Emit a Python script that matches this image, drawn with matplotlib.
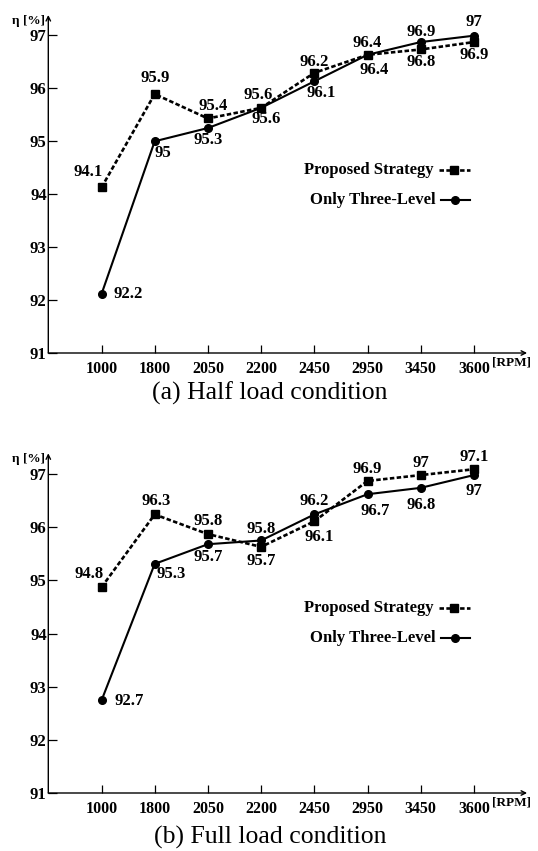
import matplotlib
matplotlib.use('Agg')
import matplotlib.pyplot as plt
from matplotlib.lines import Line2D

speeds = ['1000', '1800', '2050', '2200', '2450', '2950', '3450', '3600']
yticks = [91, 92, 93, 94, 95, 96, 97]

half_proposed = [94.12, 95.88, 95.42, 95.62, 96.28, 96.62, 96.72, 96.86]
half_three = [92.11, 94.99, 95.24, 95.62, 96.12, 96.62, 96.86, 96.98]
half_proposed_labels = ['94.1', '95.9', '95.4', '95.6', '96.2', '96.4', '96.8', '96.9']
half_three_labels = ['92.2', '95', '95.3', '95.6', '96.1', '96.4', '96.9', '97']

full_proposed = [94.87, 96.24, 95.87, 95.63, 96.11, 96.87, 96.98, 97.09]
full_three = [92.74, 95.31, 95.68, 95.75, 96.24, 96.62, 96.74, 96.98]
full_proposed_labels = ['94.8', '96.3', '95.8', '95.7', '96.1', '96.9', '97', '97.1']
full_three_labels = ['92.7', '95.3', '95.7', '95.8', '96.2', '96.7', '96.8', '97']

legend_names = ['Proposed Strategy', 'Only Three-Level']
captions = ['(a) Half load condition', '(b) Full load condition']

# label offsets in pixels (layout only)
half_prop_off = [(-13, 15), (0, 16), (5, 12), (-3, 13), (0, 11), (7, -15), (0, -13), (0, -13)]
half_three_off = [(27, 0), (8, -12), (0, -12), (5, -11), (7, -12), (0, 12), (0, 10), (0, 14)]
full_prop_off = [(-12, 13), (1, 13), (0, 13), (0, -14), (5, -16), (0, 12), (0, 12), (0, 12)]
full_three_off = [(28, -1), (16, -10), (0, -13), (0, 11), (0, 13), (8, -17), (0, -17), (0, -16)]

SERIF = ['Liberation Serif', 'DejaVu Serif']
plt.rcParams['font.family'] = SERIF

W, H = 538, 851
fig = plt.figure(figsize=(W / 100, H / 100), dpi=100)

LABEL_FS = 12
TICKX_FS = 11.5
TICKY_FS = 12


def px_axes(left, top, right, bottom):
    return fig.add_axes([left / W, 1 - bottom / H, (right - left) / W, (bottom - top) / H])


def draw_panel(ax, prop, three, prop_lab, three_lab, prop_off, three_off, ytop):
    x = list(range(1, len(speeds) + 1))
    ax.set_xlim(0, 9.0)
    ax.set_ylim(91, ytop)
    for s in ['top', 'right', 'left', 'bottom']:
        ax.spines[s].set_visible(False)
    ax.annotate('', xy=(1, 0), xytext=(0, 0), xycoords='axes fraction',
                arrowprops=dict(arrowstyle='->', lw=1.0, color='black',
                                shrinkA=0, shrinkB=0, mutation_scale=8))
    ax.annotate('', xy=(0, 1), xytext=(0, 0), xycoords='axes fraction',
                arrowprops=dict(arrowstyle='->', lw=1.0, color='black',
                                shrinkA=0, shrinkB=0, mutation_scale=8))
    ax.set_xticks(x)
    ax.set_xticklabels(speeds, fontweight='bold', fontsize=TICKX_FS)
    ax.set_yticks(yticks)
    ax.set_yticklabels([str(v) for v in yticks], fontweight='bold', fontsize=TICKY_FS)
    ax.tick_params(axis='x', direction='in', length=6, width=0.9, pad=5.5, colors='black')
    ax.tick_params(axis='y', direction='in', length=6.5, width=0.9, pad=1.2, colors='black')

    ax.plot(x, three, color='black', lw=1.5, marker='o', markersize=5.5, clip_on=False, zorder=3)
    ax.plot(x, prop, color='black', lw=1.9, dashes=(1.7, 0.9), marker='s', markersize=6.3,
            clip_on=False, zorder=4)

    for xi, yi, lab, off in zip(x, prop, prop_lab, prop_off):
        ax.annotate(lab, (xi, yi), xytext=off, textcoords='offset pixels',
                    ha='center', va='center', fontsize=LABEL_FS, fontweight='bold')
    for xi, yi, lab, off in zip(x, three, three_lab, three_off):
        ax.annotate(lab, (xi, yi), xytext=off, textcoords='offset pixels',
                    ha='center', va='center', fontsize=LABEL_FS, fontweight='bold')

    ax.text(-0.006, 1.0, 'η [%]', transform=ax.transAxes, ha='right', va='top',
            fontsize=9.5, fontweight='bold', family=SERIF)
    ax.text(0.927, -0.028, '[RPM]', transform=ax.transAxes, ha='left', va='center',
            fontsize=9.5, fontweight='bold')


def draw_legend(ax, y1, y2):
    rows = [(y1, legend_names[0], dict(lw=1.9, dashes=(1.7, 0.9)), 's', 6.3, 0.8055, 0.8157),
            (y2, legend_names[1], dict(lw=1.5), 'o', 5.5, 0.8098, 0.8198)]
    for y, name, style, mk, ms, tx, hx in rows:
        ax.text(tx, y, name, transform=ax.transAxes, ha='right', va='center',
                fontsize=LABEL_FS, fontweight='bold')
        line = Line2D([hx, 0.8804], [y, y], transform=ax.transAxes, color='black',
                      clip_on=False, **style)
        ax.add_line(line)
        ax.plot([(hx + 0.8804) / 2], [y], transform=ax.transAxes, color='black',
                marker=mk, markersize=ms, clip_on=False, zorder=5)


ax1 = px_axes(48.3, 15, 527.1, 353)
draw_panel(ax1, half_proposed, half_three, half_proposed_labels, half_three_labels,
           half_prop_off, half_three_off, 97.37)
draw_legend(ax1, 0.5414, 0.4527)

ax2 = px_axes(48.3, 453.3, 527.1, 793)
draw_panel(ax2, full_proposed, full_three, full_proposed_labels, full_three_labels,
           full_prop_off, full_three_off, 97.39)
draw_legend(ax2, 0.5437, 0.4554)

fig.text(270 / W, 1 - 400 / H, captions[0], ha='center', va='baseline', fontsize=18.5)
fig.text(270 / W, 1 - 844 / H, captions[1], ha='center', va='baseline', fontsize=18.5)

fig.savefig('out.png', dpi=100)
